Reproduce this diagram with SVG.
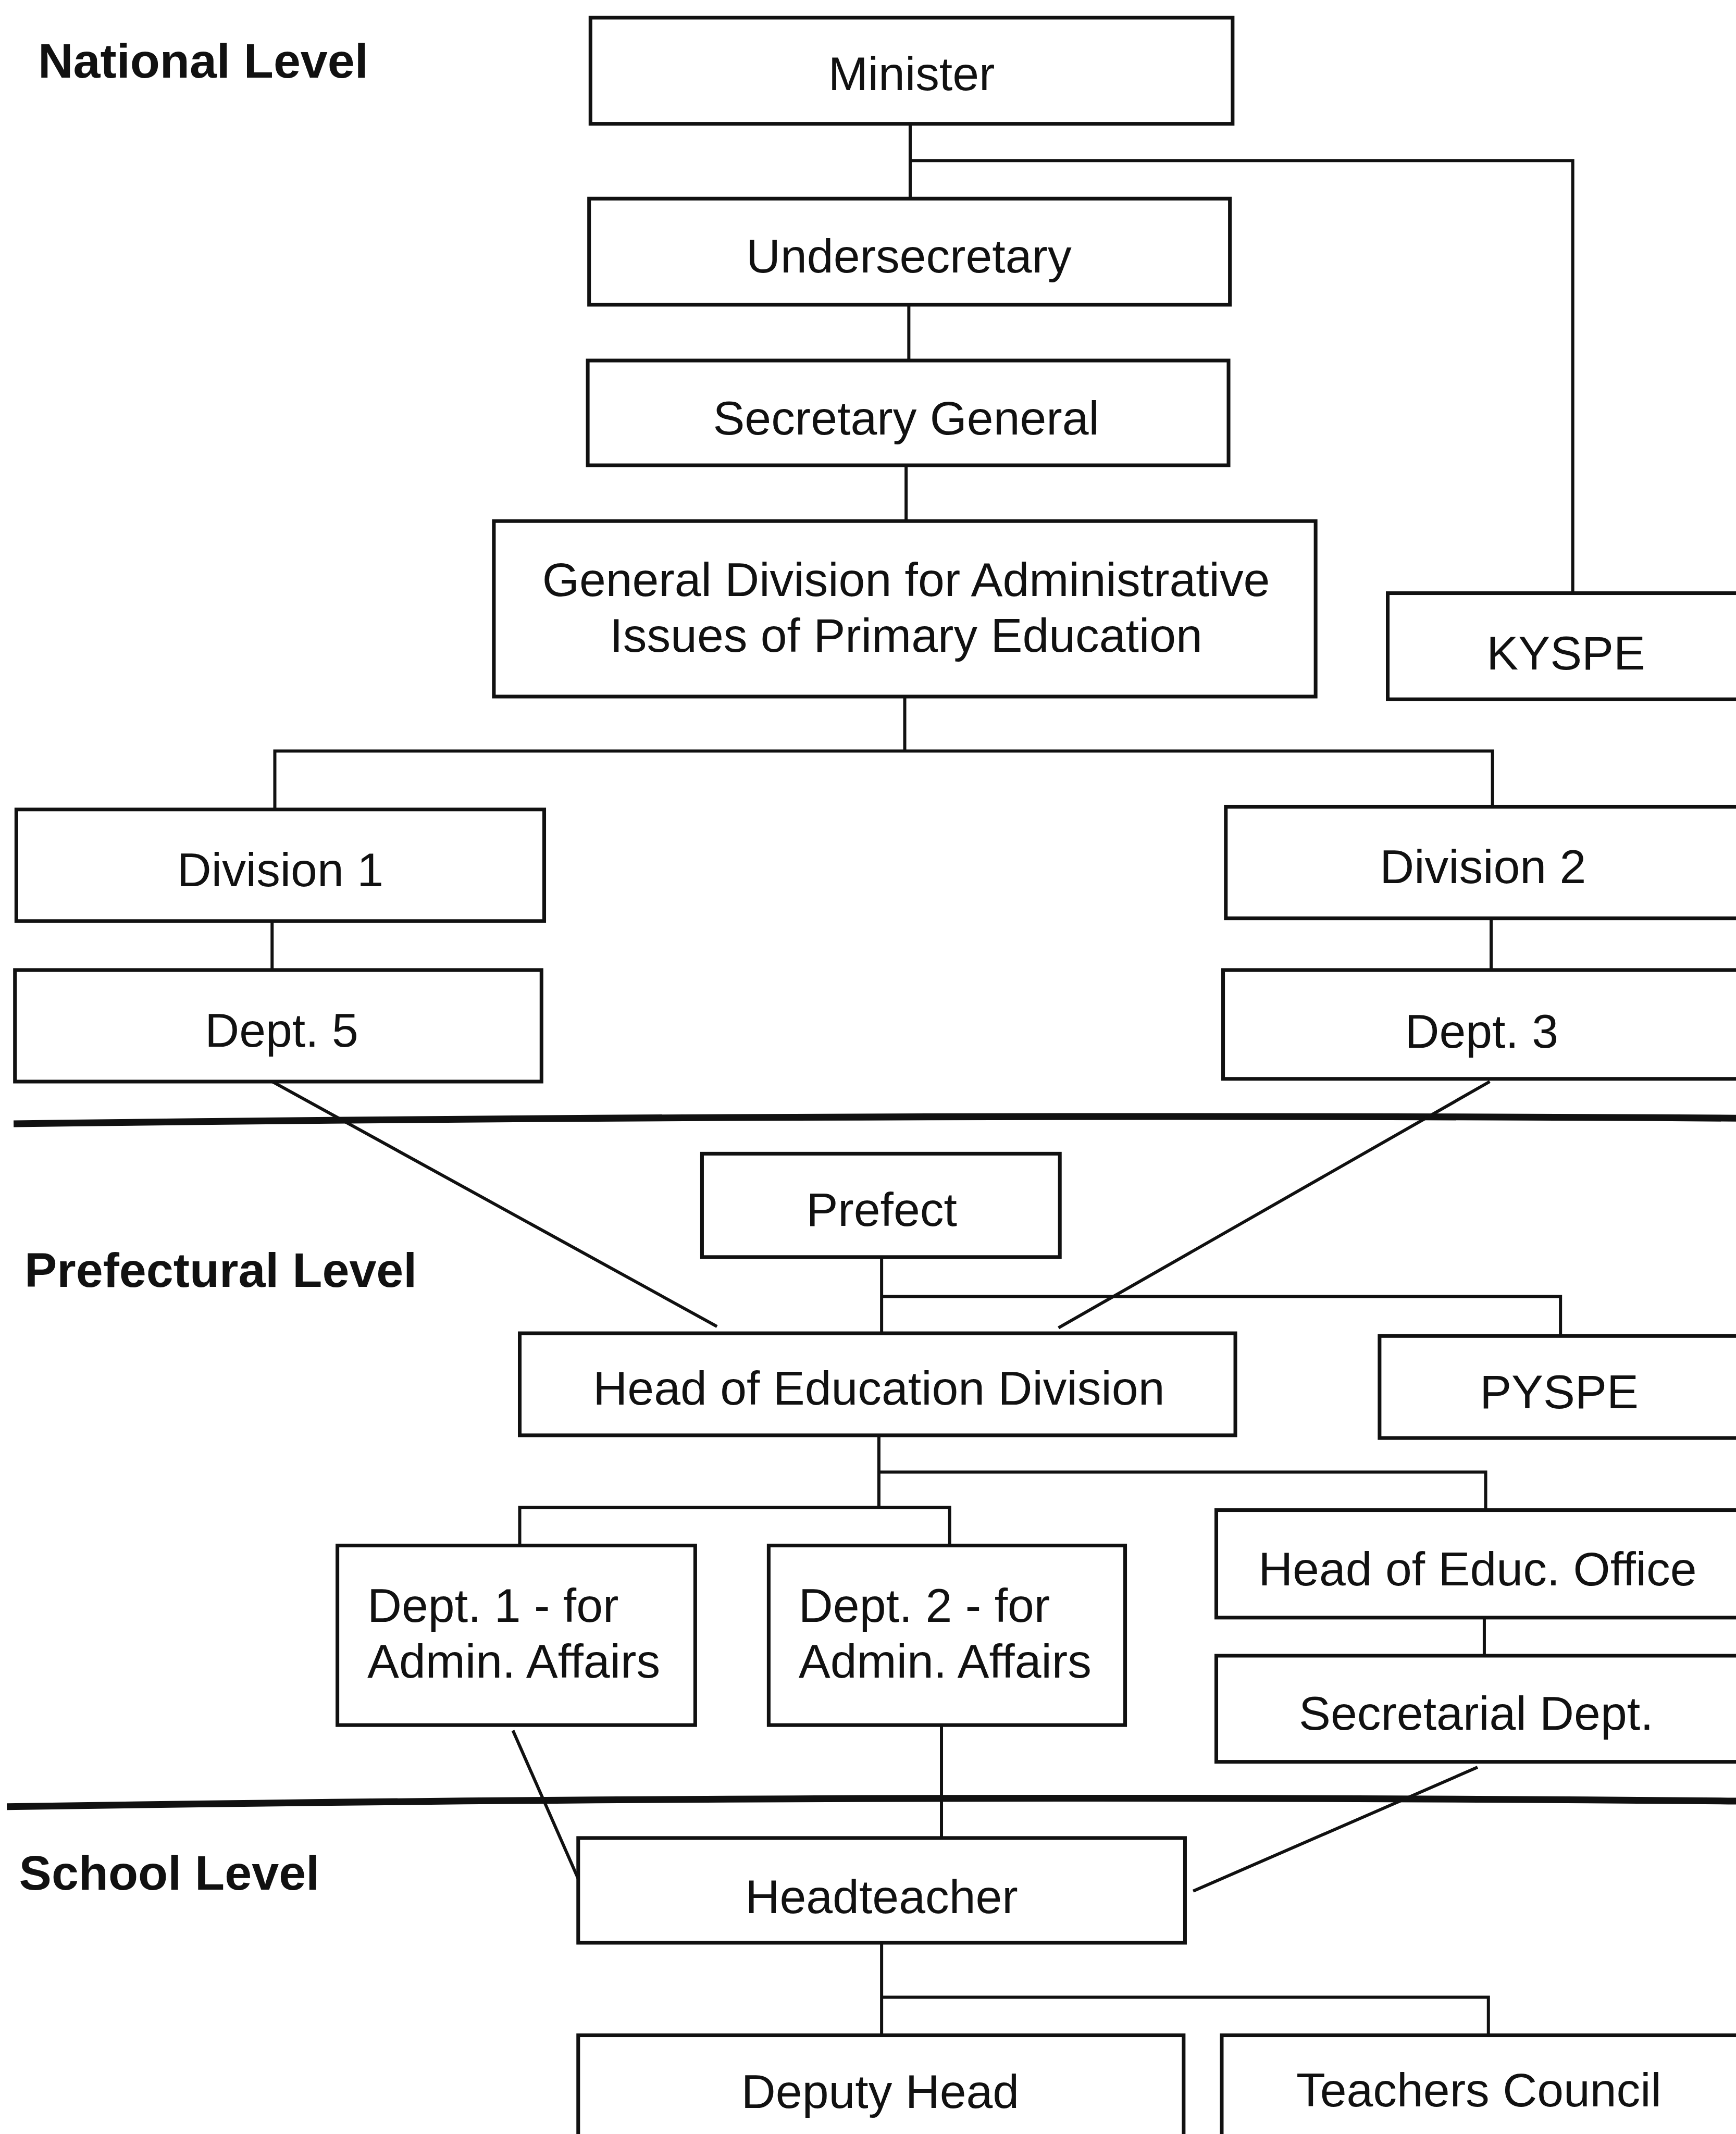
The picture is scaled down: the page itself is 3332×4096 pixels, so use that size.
<svg xmlns="http://www.w3.org/2000/svg" width="3332" height="4096" viewBox="0 0 3332 4096">
<style>
.box{fill:#fff;stroke:#111;stroke-width:2.7}
.ln{fill:none;stroke:#111;stroke-width:2.3}
.sep{fill:none;stroke:#111;stroke-width:5}
.t{font-family:"Liberation Sans",Arial,sans-serif;font-size:35px;fill:#111;text-anchor:middle;dominant-baseline:central}
.tl{font-family:"Liberation Sans",Arial,sans-serif;font-size:35px;fill:#111}
.lvl{font-family:"Liberation Sans",Arial,sans-serif;font-size:35.8px;font-weight:bold;fill:#111}
</style>
<rect width="3332" height="4096" fill="#fff"/>
<g transform="scale(2.6113)">
<g id="levels">
<text class="lvl" x="28" y="57">National Level</text>
<text class="lvl" x="18" y="946">Prefectural Level</text>
<text class="lvl" x="14" y="1389">School Level</text>
<path class="sep" d="M10,826 Q640,818 1290,822"/>
<path class="sep" d="M5,1328 Q640,1318 1290,1324"/>
</g>
<g id="connectors">
<path class="ln" d="M669,91 V146 M669,118 H1156 V436"/>
<path class="ln" d="M668,224 V265"/>
<path class="ln" d="M666,342 V383"/>
<path class="ln" d="M665,512 V552 M202,598 V552 H1097 V593"/>
<path class="ln" d="M200,677 V713"/>
<path class="ln" d="M1096,675 V713"/>
<path class="ln" d="M200,795 L527,975"/>
<path class="ln" d="M1095,795 L778,976"/>
<path class="ln" d="M648,924 V980 M648,953 H1147 V982"/>
<path class="ln" d="M646,1055 V1108 M646,1082 H1092 V1110 M382,1136 V1108 H698 V1136"/>
<path class="ln" d="M1091,1189 V1217"/>
<path class="ln" d="M377,1272 L429,1390"/>
<path class="ln" d="M692,1268 V1351"/>
<path class="ln" d="M1086,1299 L877,1390"/>
<path class="ln" d="M648,1428 V1496 M648,1468 H1094 V1496"/>
</g>
<g id="minister"><rect class="box" x="434" y="13" width="472" height="78"/><text class="t" x="670" y="54">Minister</text></g>
<g id="undersecretary"><rect class="box" x="433" y="146" width="471" height="78"/><text class="t" x="668" y="188">Undersecretary</text></g>
<g id="secretary-general"><rect class="box" x="432" y="265" width="471" height="77"/><text class="t" x="666" y="307">Secretary General</text></g>
<g id="general-division"><rect class="box" x="363" y="383" width="604" height="129"/><text class="t" x="666" y="426">General Division for Administrative</text><text class="t" x="666" y="467">Issues of Primary Education</text></g>
<g id="kyspe"><rect class="box" x="1020" y="436" width="270" height="78"/><text class="t" x="1151" y="480">KYSPE</text></g>
<g id="division-1"><rect class="box" x="12" y="595" width="388" height="82"/><text class="t" x="206" y="639">Division 1</text></g>
<g id="division-2"><rect class="box" x="901" y="593" width="389" height="82"/><text class="t" x="1090" y="637">Division 2</text></g>
<g id="dept-5"><rect class="box" x="11" y="713" width="387" height="82"/><text class="t" x="207" y="757">Dept. 5</text></g>
<g id="dept-3"><rect class="box" x="899" y="713" width="391" height="80"/><text class="t" x="1089" y="758">Dept. 3</text></g>
<g id="prefect"><rect class="box" x="516" y="848" width="263" height="76"/><text class="t" x="648" y="889">Prefect</text></g>
<g id="head-education-division"><rect class="box" x="382" y="980" width="526" height="75"/><text class="t" x="646" y="1020">Head of Education Division</text></g>
<g id="pyspe"><rect class="box" x="1014" y="982" width="276" height="75"/><text class="t" x="1146" y="1023">PYSPE</text></g>
<g id="dept-1"><rect class="box" x="248" y="1136" width="263" height="132"/><text class="tl" x="270" y="1192">Dept. 1 - for</text><text class="tl" x="270" y="1233">Admin. Affairs</text></g>
<g id="dept-2"><rect class="box" x="565" y="1136" width="262" height="132"/><text class="tl" x="587" y="1192">Dept. 2 - for</text><text class="tl" x="587" y="1233">Admin. Affairs</text></g>
<g id="head-educ-office"><rect class="box" x="894" y="1110" width="396" height="79"/><text class="t" x="1086" y="1153">Head of Educ. Office</text></g>
<g id="secretarial-dept"><rect class="box" x="894" y="1217" width="396" height="78"/><text class="t" x="1085" y="1259">Secretarial Dept.</text></g>
<g id="headteacher"><rect class="box" x="425" y="1351" width="446" height="77"/><text class="t" x="648" y="1394">Headteacher</text></g>
<g id="deputy-head"><rect class="box" x="425" y="1496" width="445" height="90"/><text class="t" x="647" y="1537">Deputy Head</text></g>
<g id="teachers-council"><rect class="box" x="898" y="1496" width="392" height="90"/><text class="t" x="1087" y="1536">Teachers Council</text></g>
</g>
</svg>
